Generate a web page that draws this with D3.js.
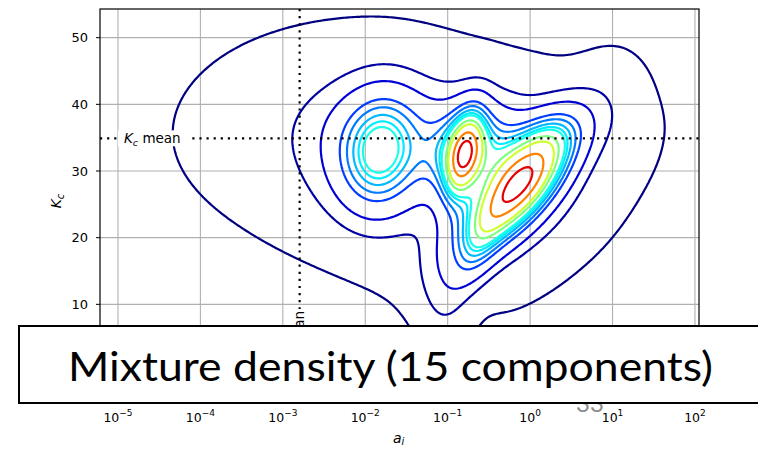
<!DOCTYPE html>
<meta charset="utf-8">
<style>
body { margin: 0; background: #fff; }
text { font-family: "DejaVu Sans", sans-serif; fill: #000; }
.grid line { stroke: #b0b0b0; stroke-width: 1.1; }
</style>
<body>
<script src="https://cdn.jsdelivr.net/npm/d3@7"></script>
<script>

// Gaussian mixture (15 components), in (log10 a_i, K_c) space
var compLogA   = [-0.15, -0.62, -0.80, -0.85, -0.40,  0.20, -1.82, -1.90, -1.00, -1.05,  1.05,  0.50, -2.70, -1.50, -0.50];
var compKc     = [27.6,  19.0,  32.2,  33.0,  32.5,  35.0,  32.8,  33.5,  37.0,  12.0,  39.5,  22.0,  34.0,  32.5,  27.0];
var compSdLogA = [0.40,  0.20,  0.15,  0.30,  0.35,  0.25,  0.30,  0.50,  0.90,  0.20,  0.30,  0.50,  1.00,  1.50,  0.60];
var compSdKc   = [5.5,   4.0,   4.2,   4.0,   3.5,   2.5,   5.2,   6.0,   4.0,   5.0,   5.5,   7.0,   7.0,  11.5,   8.0];
var compRho    = [0.70,  0.60,  0.40,  0.20,  0.00,  0.30,  0.10,  0.00,  0.00,  0.00,  0.00,  0.85,  0.00, -0.20,  0.50];
var compWeight = [9.08,  0.60,  2.25,  2.00,  1.23,  0.38,  3.55,  1.70,  1.02,  0.25,  0.17,  0.17,  0.26,  3.00,  0.78];

// contour levels, as a fraction of the peak density
var levelFrac = [0.006, 0.04, 0.09, 0.19, 0.25, 0.31, 0.36, 0.40, 0.50, 0.58, 0.75, 0.90];

var xTicks = [1e-5, 1e-4, 1e-3, 1e-2, 1e-1, 1e0, 1e1, 1e2];
var yTicks = [10, 20, 30, 40, 50];
var kcMean = 34.9;
var aMean = 1.6e-3;
var title = "Mixture density (15 components)";

var width = 758, height = 449;
var svg = d3.select("body").append("svg")
    .attr("width", width)
    .attr("height", height);

var x = d3.scaleLog().domain([Math.pow(10, -5.218), Math.pow(10, 2.049)]).range([100, 699]);
var y = d3.scaleLinear().domain([-4.8, 54.3]).range([403, 9]);

svg.append("defs").append("clipPath").attr("id", "plot")
  .append("rect")
    .attr("x", 100).attr("y", 9)
    .attr("width", 599).attr("height", 394);

// grid
var grid = svg.append("g").attr("class", "grid");
grid.selectAll(".gx").data(xTicks).enter().append("line")
    .attr("x1", d => x(d)).attr("x2", d => x(d))
    .attr("y1", 9).attr("y2", 403);
grid.selectAll(".gy").data(yTicks).enter().append("line")
    .attr("x1", 100).attr("x2", 699)
    .attr("y1", d => y(d)).attr("y2", d => y(d));

// density on a grid
var uMin = -5.4, uMax = 2.2, vMin = -25, vMax = 60;
var nx = 305, ny = 341;
var du = (uMax - uMin) / (nx - 1), dv = (vMax - vMin) / (ny - 1);
var values = new Float64Array(nx * ny);
var peak = 0;
for (var j = 0; j < ny; j++) {
  var v = vMin + j * dv;
  for (var i = 0; i < nx; i++) {
    var u = uMin + i * du, f = 0;
    for (var k = 0; k < compWeight.length; k++) {
      var a = (u - compLogA[k]) / compSdLogA[k];
      var b = (v - compKc[k]) / compSdKc[k];
      var r = compRho[k], s = 1 - r * r;
      var q = (a * a + b * b - 2 * r * a * b) / s;
      f += compWeight[k] / (2 * Math.PI * compSdLogA[k] * compSdKc[k] * Math.sqrt(s)) * Math.exp(-q / 2);
    }
    values[i + j * nx] = f;
    if (f > peak) peak = f;
  }
}

var levels = levelFrac.map(p => p * peak);
var contours = d3.contours().size([nx, ny]).thresholds(levels)(values);

function jet(t) {
  function c(x) { return Math.max(0, Math.min(1, x)); }
  var r = c(Math.min(4 * t - 1.5, -4 * t + 4.5));
  var g = c(Math.min(4 * t - 0.5, -4 * t + 3.5));
  var b = c(Math.min(4 * t + 0.5, -4 * t + 2.5));
  return d3.rgb(r * 255, g * 255, b * 255).toString();
}
var lo = levelFrac[0], hi = levelFrac[levelFrac.length - 1];
function levelColor(p) { return jet(0.9 * (p - lo) / (hi - lo)); }

var toScreen = d3.geoTransform({
  point: function(gx, gy) {
    var u = uMin + (gx - 0.5) * du, v = vMin + (gy - 0.5) * dv;
    this.stream.point(x(Math.pow(10, u)), y(v));
  }
});
var path = d3.geoPath(toScreen);

svg.append("g").attr("clip-path", "url(#plot)")
  .selectAll("path").data(contours).enter().append("path")
    .attr("d", path)
    .attr("fill", "none")
    .attr("stroke", (d, i) => levelColor(levelFrac[i]))
    .attr("stroke-width", 2.2)
    .attr("stroke-linejoin", "round");

// mean lines
svg.append("line")
    .attr("x1", 100).attr("x2", 699)
    .attr("y1", y(kcMean)).attr("y2", y(kcMean))
    .attr("stroke", "#000").attr("stroke-width", 2.2)
    .attr("stroke-dasharray", "2.2,4.9");
svg.append("line")
    .attr("x1", x(aMean)).attr("x2", x(aMean))
    .attr("y1", 9).attr("y2", 403)
    .attr("stroke", "#000").attr("stroke-width", 2.2)
    .attr("stroke-dasharray", "2.2,4.9");

svg.append("rect")
    .attr("x", 118).attr("y", y(kcMean) - 8)
    .attr("width", 74).attr("height", 16)
    .attr("fill", "#fff");
var kl = svg.append("text")
    .attr("x", 124).attr("y", y(kcMean) + 4.5)
    .style("font-size", "13.5px");
kl.append("tspan").style("font-style", "italic").text("K");
kl.append("tspan").style("font-style", "italic").style("font-size", "9.5px").attr("dy", 3).text("c");
kl.append("tspan").attr("dy", -3).text(" mean");

var ag = svg.append("g").attr("transform", "translate(" + (x(aMean) + 4.5) + ",311) rotate(-90)");
ag.append("rect").attr("x", -72).attr("y", -12).attr("width", 74).attr("height", 16).attr("fill", "#fff");
var al = ag.append("text").attr("text-anchor", "end").style("font-size", "13.5px");
al.append("tspan").style("font-style", "italic").text("a");
al.append("tspan").style("font-style", "italic").style("font-size", "9.5px").attr("dy", 3).text("i");
al.append("tspan").attr("dy", -3).text(" mean");

// frame
svg.append("rect")
    .attr("x", 100).attr("y", 9)
    .attr("width", 599).attr("height", 394)
    .attr("fill", "none").attr("stroke", "#000").attr("stroke-width", 1.2);

// y axis
var yAxis = svg.append("g");
yAxis.selectAll("line").data(yTicks).enter().append("line")
    .attr("x1", 96).attr("x2", 100)
    .attr("y1", d => y(d)).attr("y2", d => y(d))
    .attr("stroke", "#000");
yAxis.selectAll("text").data(yTicks).enter().append("text")
    .attr("x", 88).attr("y", d => y(d) + 4.7)
    .attr("text-anchor", "end")
    .style("font-size", "13px")
    .text(d => d);

var yl = svg.append("text")
    .attr("transform", "translate(61,201) rotate(-90)")
    .attr("text-anchor", "middle")
    .style("font-size", "14px");
yl.append("tspan").style("font-style", "italic").text("K");
yl.append("tspan").style("font-style", "italic").style("font-size", "10px").attr("dy", 3).text("c");

// x axis labels
var xl = svg.selectAll(".xt").data(xTicks).enter().append("text")
    .attr("x", d => x(d)).attr("y", 422)
    .attr("text-anchor", "middle")
    .style("font-size", "12.5px");
xl.append("tspan").text("10");
xl.append("tspan").attr("dy", -6).style("font-size", "9px")
    .text(d => String(Math.round(Math.log10(d))).replace("-", "\u2212"));

var xlab = svg.append("text")
    .attr("x", 393).attr("y", 443)
    .style("font-size", "14px");
xlab.append("tspan").style("font-style", "italic").text("a");
xlab.append("tspan").style("font-style", "italic").style("font-size", "10px").attr("dy", 2).text("i");

// page number peeking from behind the caption box
svg.append("text")
    .attr("x", 590).attr("y", 412)
    .attr("text-anchor", "middle")
    .style("font-family", "Lato, sans-serif")
    .style("font-size", "24px")
    .style("fill", "#8c8c8c")
    .text("33");

// caption box
svg.append("rect")
    .attr("x", 19).attr("y", 326)
    .attr("width", 760).attr("height", 77)
    .attr("fill", "#fff").attr("stroke", "#000").attr("stroke-width", 2);
svg.append("text")
    .attr("x", 68).attr("y", 381)
    .attr("textLength", 645)
    .attr("lengthAdjust", "spacingAndGlyphs")
    .style("font-family", "Lato, sans-serif")
    .style("font-size", "41px")
    .text(title);

</script>
</body>
